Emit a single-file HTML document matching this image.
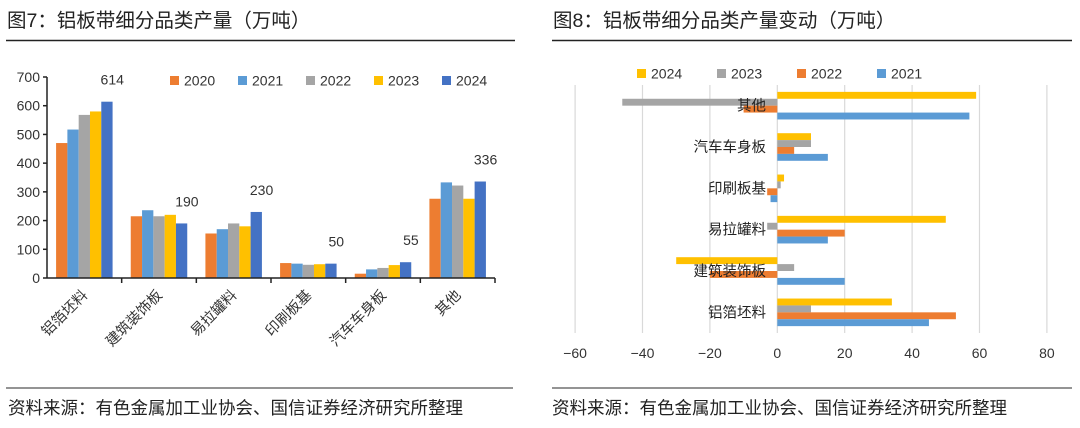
<!DOCTYPE html>
<html><head><meta charset="utf-8">
<style>
body{margin:0;width:1080px;height:423px;background:#fff;overflow:hidden;font-family:"Liberation Sans","Noto Sans CJK SC",sans-serif;}
svg text{font-family:"Liberation Sans","Noto Sans CJK SC",sans-serif;}
</style></head>
<body>
<svg id="s" width="1080" height="423">
<text x="7" y="27" font-size="19.5" fill="#222">图7：铝板带细分品类产量（万吨）</text>
<line x1="6" y1="40.5" x2="515" y2="40.5" stroke="#222" stroke-width="1.5"/>
<text x="553" y="27" font-size="19.5" fill="#222">图8：铝板带细分品类产量变动（万吨）</text>
<line x1="552" y1="40.5" x2="1072" y2="40.5" stroke="#222" stroke-width="1.5"/>
<line x1="6" y1="388" x2="513" y2="388" stroke="#555" stroke-width="1.2"/>
<line x1="552" y1="388" x2="1072" y2="388" stroke="#555" stroke-width="1.2"/>
<text x="8" y="414" font-size="17.5" fill="#222">资料来源：有色金属加工业协会、国信证券经济研究所整理</text>
<text x="552" y="414" font-size="17.5" fill="#222">资料来源：有色金属加工业协会、国信证券经济研究所整理</text>
<g id="left"></g><g id="right"></g>
</svg>
<script>
const cats1=["铝箔坯料","建筑装饰板","易拉罐料","印刷板基","汽车车身板","其他"];
const years1=["2020","2021","2022","2023","2024"];
const v2020=[470,215,155,52,15,276];
const v2021=[517,236,170,50,30,333];
const v2022=[568,215,190,46,35,322];
const v2023=[580,220,180,48,45,276];
const v2024=[614,190,230,50,55,336];
const yTicks1=[0,100,200,300,400,500,600,700];

const cats2=["其他","汽车车身板","印刷板基","易拉罐料","建筑装饰板","铝箔坯料"];
const years2=["2024","2023","2022","2021"];
const d2024=[59,10,2,50,-30,34];
const d2023=[-46,10,1,-3,5,10];
const d2022=[-10,5,-3,20,-20,53];
const d2021=[57,15,-2,15,20,45];
const xTicks2=[-60,-40,-20,0,20,40,60,80];

const NS="http://www.w3.org/2000/svg";
function mk(p,t,a,txt){const e=document.createElementNS(NS,t);for(const k in a)e.setAttribute(k,a[k]);if(txt!=null)e.textContent=txt;p.appendChild(e);return e;}
const colL=["#ED7D31","#5B9BD5","#A5A5A5","#FFC000","#4472C4"];
const L=document.getElementById('left');
const x0=47,x1=495,yb=278,yt=77;
const y=v=>yb-(v/700)*(yb-yt);
const cw=(x1-x0)/cats1.length;
yTicks1.forEach(t=>{
 const e=mk(L,'text',{x:x0-7,y:y(t)+5,'font-size':14,'text-anchor':'end',fill:'#333'},t);
 
 
 const l=mk(L,'line',{x1:x0-4,x2:x0,y1:y(t),y2:y(t),stroke:'#222','stroke-width':1.5});
 
 
});
const series1=[v2020,v2021,v2022,v2023,v2024];
const bw=11.3;
cats1.forEach((c,i)=>{
 const cx=x0+cw*(i+0.5);
 series1.forEach((s,j)=>{
  const bx=cx-2.5*bw+j*bw;
  const r=mk(L,'rect',{x:bx,y:y(s[i]),width:bw,height:yb-y(s[i]),fill:colL[j]});
  
  
 });
 const lab=mk(L,'text',{x:cx+2.5*bw+bw*0.5-6,y:y(v2024[i])-17,'font-size':14,'text-anchor':'middle',fill:'#333'},v2024[i]);
 
 
 const tk=mk(L,'line',{x1:x0+cw*(i+1),x2:x0+cw*(i+1),y1:yb,y2:yb+5,stroke:'#222','stroke-width':1.5});
 
 
 const ct=mk(L,'text',{x:0,y:0,'font-size':14.5,'text-anchor':'end',fill:'#333',transform:`translate(${cx+4},${yb+18}) rotate(-45)`},c);
 
 
});
mk(L,'line',{x1:x0,x2:x0,y1:yt,y2:yb,stroke:'#222','stroke-width':1.5,});
mk(L,'line',{x1:x0,x2:x1,y1:yb,y2:yb,stroke:'#222','stroke-width':1.5,});
years1.forEach((yr,j)=>{
 const lx=170+j*68;
 const sw=mk(L,'rect',{x:lx,y:76,width:9,height:9,fill:colL[j]});
 
 
 const lt=mk(L,'text',{x:lx+14,y:85.5,'font-size':14,fill:'#333'},yr);
 
 
});
const R=document.getElementById('right');
const colR=["#FFC000","#A5A5A5","#ED7D31","#5B9BD5"];
const zx=777.3,per=67.4/20;
const X=v=>zx+v*per;
const gt=85,gb=333,bh=(gb-gt)/cats2.length;
xTicks2.forEach(t=>{
 const g=mk(R,'line',{x1:X(t),x2:X(t),y1:gt,y2:gb,stroke:'#d9d9d9','stroke-width':1.2});
 
 
 const e=mk(R,'text',{x:X(t),y:358,'font-size':14,'text-anchor':'middle',fill:'#333'},t<0?'−'+(-t):t);
 
 
});
const series2=[d2024,d2023,d2022,d2021];
const rh=6.9;
cats2.forEach((c,i)=>{
 const cy=gt+bh*(i+0.5);
 series2.forEach((s,j)=>{
  const v=s[i];
  const r=mk(R,'rect',{x:Math.min(X(0),X(v)),y:cy-2*rh+j*rh,width:Math.abs(X(v)-X(0)),height:rh,fill:colR[j]});
  
  
 });
});
cats2.forEach((c,i)=>{
 const cy=gt+bh*(i+0.5);
 const t=mk(R,'text',{x:766,y:cy+5,'font-size':14.5,'text-anchor':'end',fill:'#222'},c);
 
 
});
years2.forEach((yr,j)=>{
 const lx=637+j*80;
 const sw=mk(R,'rect',{x:lx,y:69,width:9,height:9,fill:colR[j]});
 
 
 const lt=mk(R,'text',{x:lx+14,y:78.5,'font-size':14,fill:'#333'},yr);
 
 
});
</script>
</body></html>
